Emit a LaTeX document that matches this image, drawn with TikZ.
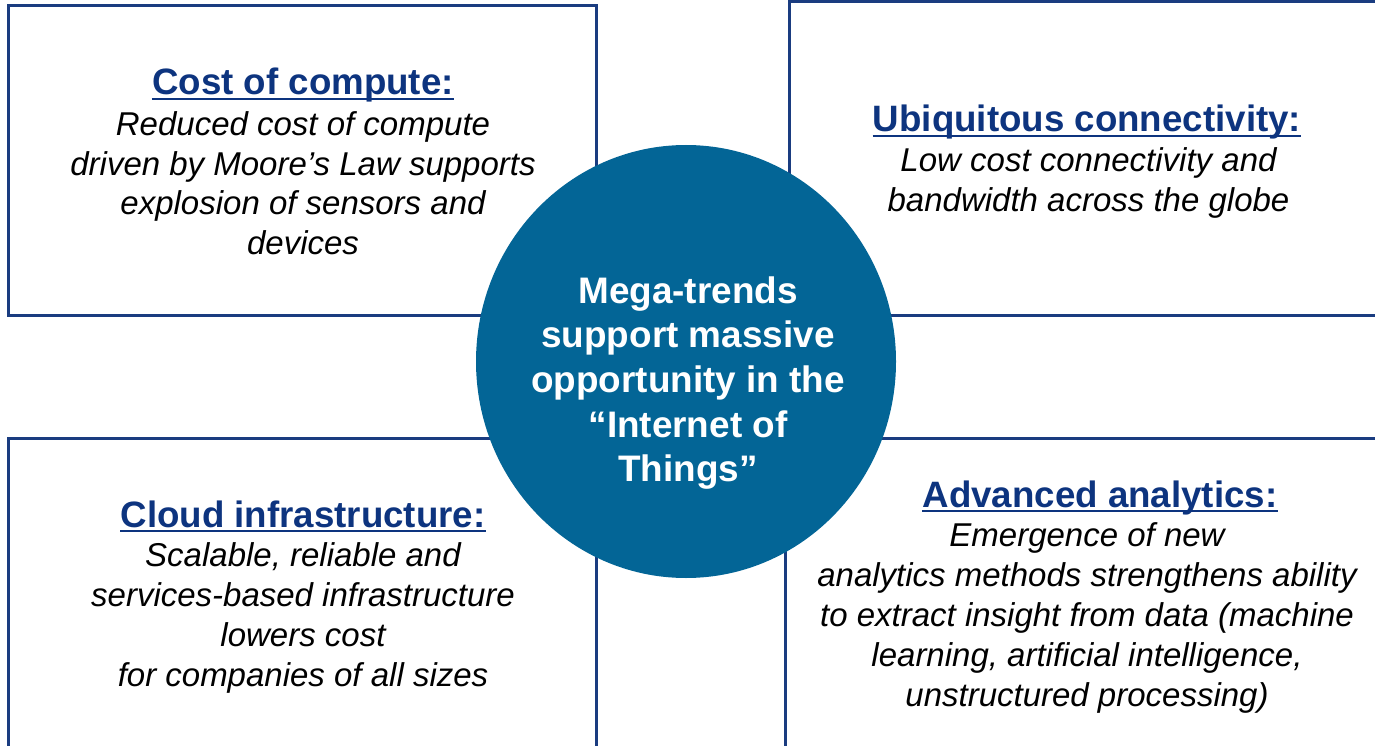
\documentclass[tikz,border=0pt]{standalone}
\usepackage{fontspec}
\setmainfont{Liberation Sans}
\definecolor{framenavy}{HTML}{1A3C80}
\definecolor{titlenavy}{HTML}{0D347F}
\definecolor{hubblue}{HTML}{036596}
\tikzset{
  panel/.style={draw=framenavy, line width=3pt, fill=white},
  paneltitle/.style={anchor=base, inner sep=0pt, text=titlenavy,
    font=\fontsize{36.7pt}{40pt}\selectfont\bfseries},
  % multi-line texts are placed by the baseline of their last line
  paneltext/.style={anchor=base, inner sep=0pt, align=center, text=black,
    font=\fontsize{33pt}{40pt}\selectfont\itshape},
  hubtext/.style={anchor=base, inner sep=0pt, align=center, text=white,
    font=\fontsize{36.9pt}{44.6pt}\selectfont\bfseries},
  titlerule/.style={draw=titlenavy, line width=2pt}
}
\begin{document}
\begin{tikzpicture}[x=1pt, y=-1pt]
  \useasboundingbox (0,0) rectangle (1375,746);
  \clip (0,0) rectangle (1375,746);

  % four panels
  \draw[panel] (8,6) rectangle (596.5,315.5);
  \draw[panel] (789,1.5) rectangle (1400,315.5);
  \draw[panel] (8,438) rectangle (596.5,780);
  \draw[panel] (785.5,438) rectangle (1400,780);

  % central hub
  \fill[hubblue] (686,361.5) ellipse (210 and 216.5);

  % panel titles
  \node[paneltitle] (t1) at (303,95) {Cost of compute:};
  \node[paneltitle] (t2) at (1087,132) {Ubiquitous connectivity:};
  \node[paneltitle] (t3) at (303,527.3) {Cloud infrastructure:};
  \node[paneltitle] (t4) at (1100,507.3) {Advanced analytics:};
  \foreach \t in {t1,t2,t3,t4}
    \draw[titlerule] ([yshift=-4pt]\t.base west) -- ([yshift=-4pt]\t.base east);

  % panel descriptions
  \node[paneltext, font=\fontsize{33pt}{39.7pt}\selectfont\itshape] (d1) at (303,254.6)
    {Reduced cost of compute\\driven by Moore’s Law supports\\explosion of sensors and\\devices};
  \node[paneltext] (d2) at (1088.5,211.7)
    {Low cost connectivity and\\bandwidth across the globe};
  \node[paneltext] (d3) at (303,686.7)
    {Scalable, reliable and\\services-based infrastructure\\lowers cost\\for companies of all sizes};
  \node[paneltext] (d4) at (1087,706.7)
    {Emergence of new\\analytics methods strengthens ability\\to extract insight from data (machine\\learning, artificial intelligence,\\unstructured processing)};

  % hub text
  \node[hubtext] (hub) at (688,481.7)
    {Mega-trends\\support massive\\opportunity in the\\“Internet of\\Things”};
\end{tikzpicture}
\end{document}
